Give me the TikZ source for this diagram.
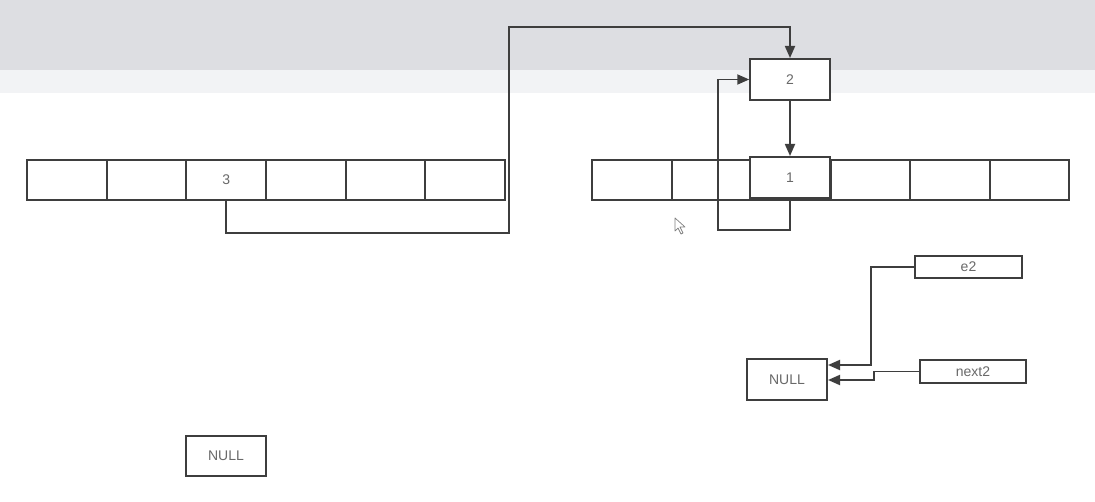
\documentclass[tikz,border=0pt]{standalone}
\usepackage{fontspec}
\setmainfont{Liberation Sans}
\usetikzlibrary{arrows.meta}
\definecolor{bandA}{RGB}{221,222,226}
\definecolor{bandB}{RGB}{242,243,245}
\definecolor{ink}{RGB}{62,62,62}
\definecolor{txt}{RGB}{105,105,105}
\tikzset{
  cell/.style={draw=ink, line width=2pt, fill=white, minimum width=79.5pt, minimum height=40pt, inner sep=0pt, font=\fontsize{14}{14}\selectfont, text=txt},
  small/.style={draw=ink, line width=2pt, fill=white, inner sep=0pt, font=\fontsize{14}{14}\selectfont, text=txt},
  conn/.style={draw=ink, line width=1.8pt},
  arr/.style={conn, -{Triangle[length=12pt,width=10pt]}}
}
\begin{document}
\begin{tikzpicture}[x=1pt,y=-1pt]
\useasboundingbox (0,0) rectangle (1095,502);
\fill[white] (0,0) rectangle (1095,502);
\fill[bandA] (0,0) rectangle (1095,70);
\fill[bandB] (0,70) rectangle (1095,93);
% left array
\foreach \i/\t in {0/,1/,2/3,3/,4/,5/} {
  \node[cell] (L\i) at ({27+79.67*(\i+0.5)},180) {\t};
}
% right array
\foreach \i in {0,1,2,3,4,5} {
  \node[cell] (R\i) at ({592+79.5*(\i+0.5)},180) {};
}
\node[cell, minimum height=41pt] (n1) at (790,177.5) {1};
\node[cell, minimum height=41pt] (n2) at (790,79.5) {2};
% e2 / next2 / NULL
\node[small, minimum width=107pt, minimum height=22pt] (e2) at (968.5,267) {e2};
\node[small, minimum width=106pt, minimum height=23pt] (next2) at (973,371.5) {next2};
\node[cell, minimum width=80pt, minimum height=41pt] (nullR) at (787,380) {NULL};
\node[cell, minimum width=80pt, minimum height=40pt] (nullL) at (226,456) {NULL};
% connectors
\coordinate (k1) at (509,233);
\coordinate (k2) at (509,27);
\draw[arr] (L2.south) |- (k1) -- (k2) -| (n2.north);
\draw[arr] (n2.south) -- (n1.north);
\coordinate (m1) at (718,230);
\draw[arr] (n1.south) |- (m1) |- (n2.west);
\coordinate (p1) at (871,365);
\draw[arr] (e2.west) -| (p1) -- (p1 -| nullR.east);
\coordinate (q1) at (874,380);
\draw[arr] (next2.west) -| (q1) -- (q1 -| nullR.east);
% mouse cursor
\draw[gray, line width=0.7pt, fill=white, line join=round] (675,218) -- (675,231) -- (678,228) -- (681,234) -- (683,233) -- (680,227) -- (685,227) -- cycle;
\end{tikzpicture}
\end{document}
